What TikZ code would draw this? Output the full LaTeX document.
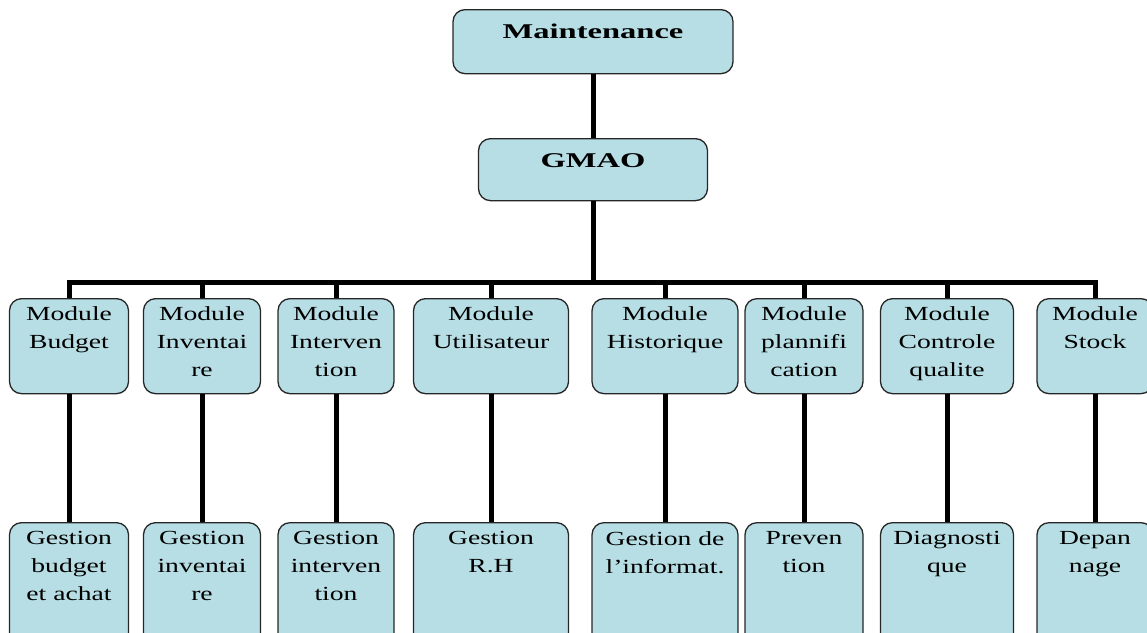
\documentclass[tikz,border=0pt]{standalone}
\usepackage{fontspec}
\newfontfamily\boxfont[FakeStretch=1.38]{Liberation Serif}
\newfontfamily\topfont[FakeStretch=1.55]{Liberation Serif}
\definecolor{boxblue}{RGB}{183,222,228}
\tikzset{
 box/.style={draw=black!85, line width=1.3pt, rounded corners=12pt, fill=boxblue, inner sep=0pt},
 txt/.style={anchor=north, align=center, inner sep=0pt, font=\boxfont\fontsize{20}{28}\selectfont},
 toptxt/.style={anchor=north, inner sep=0pt, font=\topfont\bfseries\fontsize{21}{26}\selectfont},
 wire/.style={line width=5pt, black, line join=miter}
}
\begin{document}
\begin{tikzpicture}[x=1pt,y=-1pt]
\useasboundingbox (0,0) rectangle (1147,632);
% les deux boites du haut
\node[box, minimum width=280pt, minimum height=64pt, anchor=north] (maint) at (593,9) {};
\node[toptxt] (mainttxt) at ([yshift=-15pt]maint.north) {Maintenance};
\node[box, minimum width=229pt, minimum height=62pt, anchor=north] (gmao) at (593,138) {};
\node[toptxt] (gmaotxt) at ([yshift=-15pt]gmao.north) {GMAO};
\coordinate (bus) at (593,282);
% les modules et leurs gestions
\foreach \i/\c/\w/\mtxt/\gtxt in {
 1/69/119/{Module\\Budget}/{Gestion\\budget\\et achat},
 2/202/117/{Module\\Inventai\\re}/{Gestion\\inventai\\re},
 3/336/116/{Module\\Interven\\tion}/{Gestion\\interven\\tion},
 4/491/155/{Module\\Utilisateur}/{Gestion\\R.H},
 5/665/146/{Module\\Historique}/{Gestion de\\l’informat.},
 6/804/118/{Module\\plannifi\\cation}/{Preven\\tion},
 7/947/133/{Module\\Controle\\qualite}/{Diagnosti\\que},
 8/1095/116/{Module\\Stock}/{Depan\\nage}}{
 \node[box, minimum width=\w pt, minimum height=95pt, anchor=north] (m\i) at (\c,298) {};
 \node[txt] (mt\i) at ([yshift=-8pt]m\i.north) {\mtxt};
 \node[box, minimum width=\w pt, minimum height=122pt, anchor=north] (g\i) at (\c,522) {};
 \node[txt] (gt\i) at ([yshift=-9pt]g\i.north) {\gtxt};
 \draw[wire] (m\i.south) -- (g\i.north);
}
% les traits
\draw[wire] (maint.south) -- (gmao.north);
\draw[wire] (gmao.south) -- (bus);
\draw[wire] (m1.north) |- (m8.north |- bus) -- (m8.north);
\foreach \i in {2,...,7}
 \draw[wire] (m\i.north |- bus) -- (m\i.north);
\end{tikzpicture}
\end{document}
